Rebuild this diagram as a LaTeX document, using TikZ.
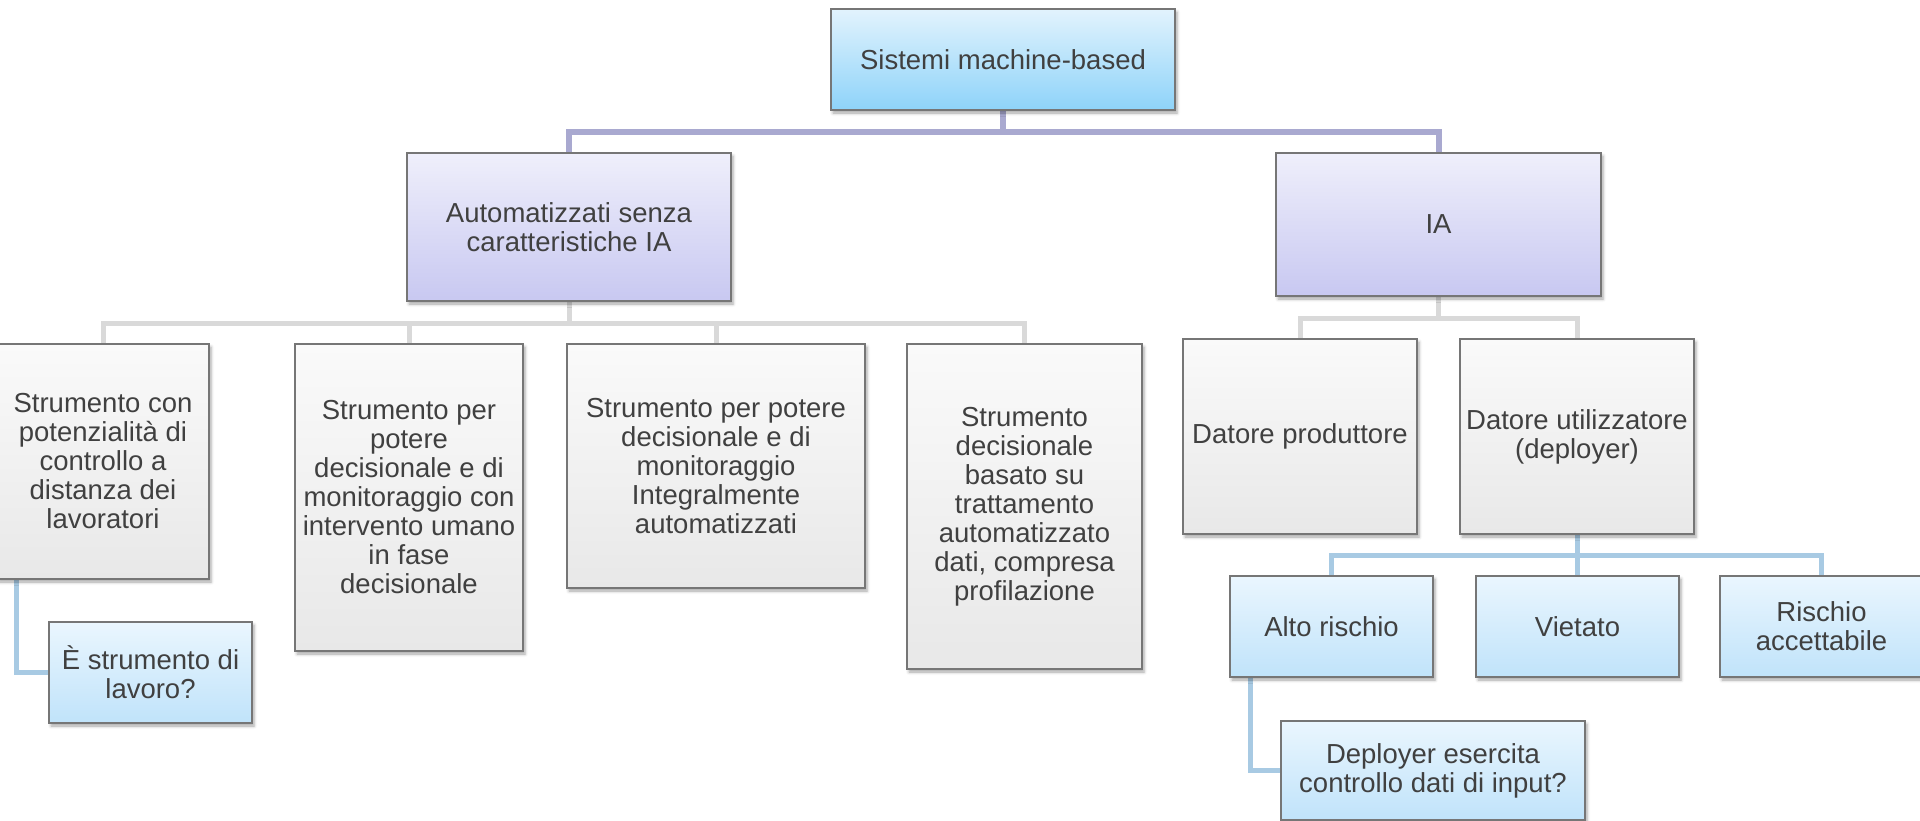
\documentclass[tikz,border=0pt]{standalone}
\usepackage{fontspec}
\setmainfont{Liberation Sans}
\usetikzlibrary{backgrounds,shadows.blur}

\definecolor{txt}{HTML}{404040}
\definecolor{boxline}{HTML}{767676}
\definecolor{deepT}{HTML}{E2F3FD}
\definecolor{deepB}{HTML}{8ED3F9}
\definecolor{skyT}{HTML}{EAF6FE}
\definecolor{skyB}{HTML}{C0E3FA}
\definecolor{lilacT}{HTML}{EFEFFB}
\definecolor{lilacB}{HTML}{C8C8F1}
\definecolor{greyT}{HTML}{FAFAFA}
\definecolor{greyB}{HTML}{E8E8E8}
\definecolor{lilacwire}{HTML}{A9A9D0}
\definecolor{greywire}{HTML}{D9D9D9}
\definecolor{bluewire}{HTML}{A8CAE3}

\tikzset{
  box/.style={rectangle, draw=boxline, line width=1.2pt, inner sep=0pt,
    align=center, text=txt, font=\fontsize{27.5}{29}\selectfont,
    blur shadow={shadow xshift=2pt, shadow yshift=-3pt,
      shadow blur radius=3pt, shadow opacity=35}},
  deepbox/.style={box, top color=deepT, bottom color=deepB},
  skybox/.style={box, top color=skyT, bottom color=skyB},
  lilacbox/.style={box, top color=lilacT, bottom color=lilacB},
  greybox/.style={box, top color=greyT, bottom color=greyB},
  dims/.style 2 args={minimum width=#1, minimum height=#2},
  wire/.style={line width=5pt},
  lilaclink/.style={wire, draw=lilacwire, line width=6pt},
  greylink/.style={wire, draw=greywire},
  bluelink/.style={wire, draw=bluewire},
}

\begin{document}
\begin{tikzpicture}[x=1pt, y=1pt]
\useasboundingbox (0,-820) rectangle (1920,0);

% root and first level
\node[deepbox, dims={344pt}{101pt}] (root) at (1003,-59.5) {Sistemi machine-based};
\node[lilacbox, dims={324pt}{148pt}] (auto) at (569,-227) {Automatizzati senza\\caratteristiche IA};
\node[lilacbox, dims={325pt}{143pt}] (ia) at (1438.5,-224.5) {IA};

% automated systems without AI
\node[greybox, dims={212pt}{235pt}] (b1) at (103,-461.5)
  {Strumento con\\potenzialità di\\controllo a\\distanza dei\\lavoratori};
\node[greybox, dims={228pt}{307pt}] (b2) at (409,-497.5)
  {Strumento per\\potere\\decisionale e di\\monitoraggio con\\intervento umano\\in fase\\decisionale};
\node[greybox, dims={298pt}{244pt}] (b3) at (716,-466)
  {Strumento per potere\\decisionale e di\\monitoraggio\\Integralmente\\automatizzati};
\node[greybox, dims={235pt}{325pt}] (b4) at (1024.5,-506.5)
  {Strumento\\decisionale\\basato su\\trattamento\\automatizzato\\dati, compresa\\profilazione};
\node[skybox, dims={203pt}{101pt}] (q1) at (150.5,-672.5) {È strumento di\\lavoro?};

% AI branch
\node[greybox, dims={234pt}{195pt}] (dp) at (1300,-436.5) {Datore produttore};
\node[greybox, dims={234pt}{195pt}] (du) at (1577,-436.5) {Datore utilizzatore\\(deployer)};
\node[skybox, dims={203pt}{101pt}] (ar) at (1331.5,-626.5) {Alto rischio};
\node[skybox, dims={203pt}{101pt}] (vi) at (1577.5,-626.5) {Vietato};
\node[skybox, dims={203pt}{101pt}] (ra) at (1821.5,-626.5) {Rischio\\accettabile};
\node[skybox, dims={304pt}{99pt}] (dep) at (1433,-770.5) {Deployer esercita\\controllo dati di input?};

% bus levels
\coordinate (bus1) at (0,-132);
\coordinate (bus2) at (0,-323);
\coordinate (bus3) at (0,-318);
\coordinate (bus4) at (0,-555);

\begin{scope}[on background layer]
  \draw[lilaclink] (root.south) -- (root.south |- bus1);
  \draw[lilaclink] (auto.north) |- (ia.north |- bus1) -- (ia.north);

  \draw[greylink] (auto.south) -- (auto.south |- bus2);
  \draw[greylink] (b1.north) |- (b4.north |- bus2) -- (b4.north);
  \draw[greylink] (b2.north) -- (b2.north |- bus2);
  \draw[greylink] (b3.north) -- (b3.north |- bus2);

  \draw[greylink] (ia.south) -- (ia.south |- bus3);
  \draw[greylink] (dp.north) |- (du.north |- bus3) -- (du.north);

  \draw[bluelink] (du.south) -- (du.south |- bus4);
  \draw[bluelink] (ar.north) |- (ra.north |- bus4) -- (ra.north);
  \draw[bluelink] (vi.north) -- (vi.north |- bus4);

  \draw[bluelink] ([xshift=20pt]b1.south west) |- (q1.west);
  \draw[bluelink] ([xshift=21pt]ar.south west) |- (dep.west);
\end{scope}
\end{tikzpicture}
\end{document}
